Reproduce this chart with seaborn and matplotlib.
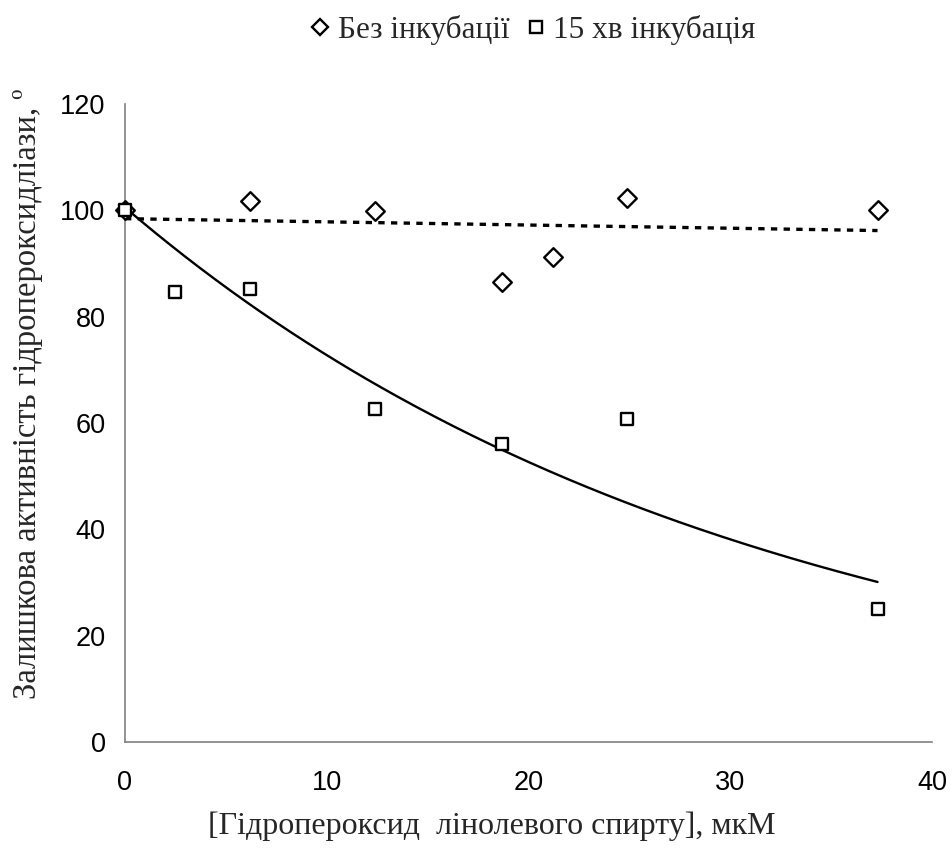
import numpy as np
import pandas as pd
import matplotlib
matplotlib.use("Agg")
import matplotlib.pyplot as plt
import seaborn as sns
from matplotlib.lines import Line2D

# Concentration of linoleyl alcohol hydroperoxide, µM
x_no_inc = [0, 6.2, 12.4, 18.7, 21.2, 24.9, 37.3]
y_no_inc = [100, 101.8, 99.8, 86.6, 91.3, 102.3, 100.0]

x_inc15 = [0, 2.5, 6.2, 12.4, 18.7, 24.9, 37.3]
y_inc15 = [100, 84.7, 85.2, 62.6, 56.0, 60.7, 25.0]

label_no_inc = "Без інкубації"
label_inc15 = "15 хв інкубація"
x_title = "[Гідропероксид  лінолевого спирту], мкМ"
y_title = "Залишкова активність гідропероксидліази, º"

x_ticks = [0, 10, 20, 30, 40]
y_ticks = [0, 20, 40, 60, 80, 100, 120]

sns.set_style("white")
plt.rcParams["font.family"] = ["Liberation Sans", "DejaVu Sans"]

fig = plt.figure(figsize=(9.52, 8.52), dpi=100)
ax = fig.add_axes([125 / 952, 1 - 742 / 852, (932 - 125) / 952, (742 - 104) / 852])

df_a = pd.DataFrame({"x": x_no_inc, "y": y_no_inc})
df_b = pd.DataFrame({"x": x_inc15, "y": y_inc15})

# Linear trend for the non-incubated series
sns.regplot(data=df_a, x="x", y="y", scatter=False, ci=None, truncate=True, ax=ax,
            line_kws=dict(color="black", lw=2.4, dashes=(1.9, 1.9), dash_capstyle="butt", zorder=2))

# Exponential trend for the 15-min series (least squares on log scale)
b, a = np.polyfit(np.array(x_inc15, float), np.log(np.array(y_inc15, float)), 1)
xs = np.linspace(min(x_inc15), max(x_inc15), 200)
sns.lineplot(x=xs, y=np.exp(a + b * xs), color="black", lw=1.7, ax=ax, zorder=2)

sns.scatterplot(data=df_a, x="x", y="y", marker="D", s=90, facecolor="white",
                edgecolor="black", linewidth=1.7, ax=ax, zorder=3, clip_on=False)
sns.scatterplot(data=df_b, x="x", y="y", marker="s", s=85, facecolor="white",
                edgecolor="black", linewidth=1.7, ax=ax, zorder=4, clip_on=False)

ax.set_xlim(0, 40)
ax.set_ylim(0, 120)
ax.set_xticks(x_ticks)
ax.set_yticks(y_ticks)
ax.set_xlabel("")
ax.set_ylabel("")
for side in ["top", "right"]:
    ax.spines[side].set_visible(False)
for side in ["left", "bottom"]:
    ax.spines[side].set_color("#808080")
    ax.spines[side].set_linewidth(1.2)
ax.tick_params(axis="both", direction="in", length=6, width=1.2, color="#808080",
               labelsize=19.5, labelcolor="black")
ax.tick_params(axis="x", pad=20)
ax.tick_params(axis="y", pad=14)

serif = ["Liberation Serif", "DejaVu Serif"]
fig.text(492 / 952, 1 - 826 / 852, x_title, ha="center", va="center",
         fontsize=23, family=serif)
fig.text(28 / 952, 1 - 394 / 852, y_title, ha="center", va="center",
         rotation=90, fontsize=23.5, family=serif)

# Legend across the top
handles = [
    Line2D([], [], marker="D", ls="none", ms=8, mfc="white", mec="black", mew=1.7),
    Line2D([], [], marker="s", ls="none", ms=8, mfc="white", mec="black", mew=1.7),
]
fig.legend(handles, [label_no_inc, label_inc15], loc="center",
           bbox_to_anchor=(534 / 952, 1 - 30 / 852), ncol=2, frameon=False,
           prop=dict(family=serif, size=22.5), handlelength=0.5, handletextpad=0.3,
           columnspacing=0.6)

fig.savefig("out.png", dpi=100)
